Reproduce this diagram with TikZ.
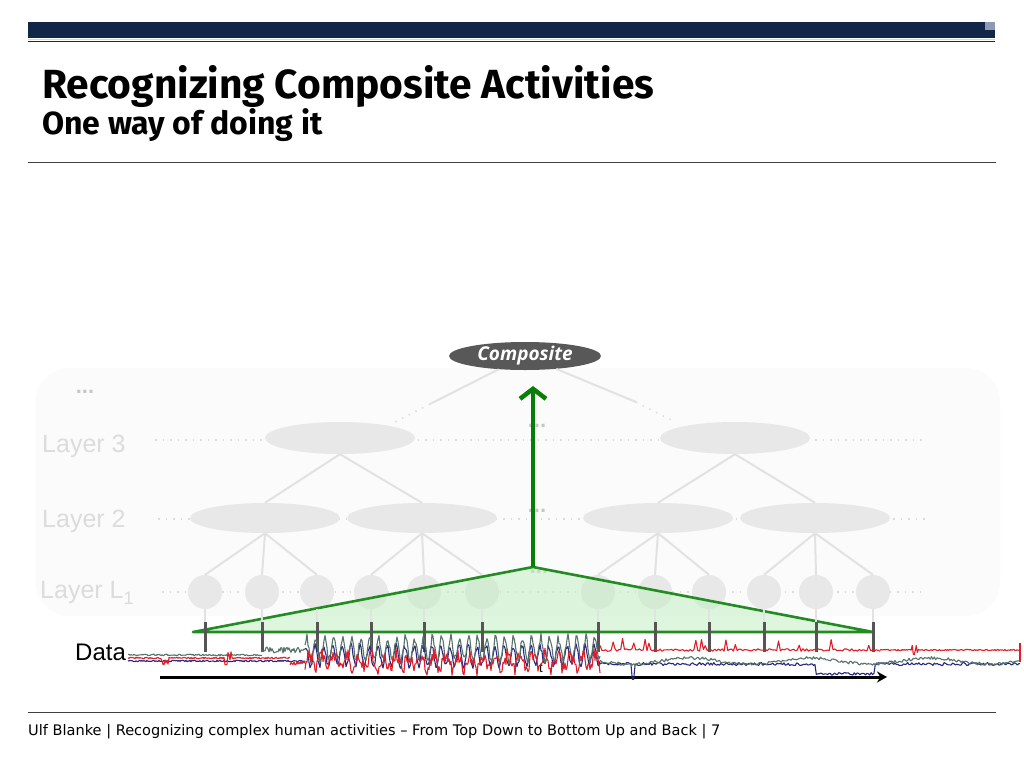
\documentclass[tikz,border=0pt]{standalone}
\usepackage{fontspec}
\setmainfont{Liberation Sans}
\newfontfamily\titlefont{Fira Sans}
\newfontfamily\footfont{DejaVu Sans}
\newfontfamily\compfont{Open Sans}
\usetikzlibrary{arrows.meta,shapes.geometric,calc}
\definecolor{navy}{RGB}{18,38,72}
\definecolor{sqcol}{RGB}{140,155,180}
\definecolor{nodegray}{RGB}{232,232,232}
\definecolor{labelgray}{RGB}{220,220,220}
\definecolor{edgegray}{RGB}{226,226,226}
\definecolor{compgray}{RGB}{88,88,88}
\definecolor{trigreen}{RGB}{34,140,34}
\definecolor{trifill}{RGB}{190,238,190}
\definecolor{arrowgreen}{RGB}{8,125,8}
\definecolor{sigred}{RGB}{222,30,40}
\definecolor{sigblue}{RGB}{40,40,130}
\definecolor{siggreen}{RGB}{85,115,105}
\definecolor{stickgray}{RGB}{85,85,85}
\tikzset{
  l3node/.style={ellipse, fill=nodegray, minimum width=150pt, minimum height=32pt, inner sep=0},
  l2node/.style={ellipse, fill=nodegray, minimum width=150pt, minimum height=30pt, inner sep=0},
  l1node/.style={circle, fill=nodegray, minimum size=34pt, inner sep=0},
  edge/.style={draw=edgegray, line width=2pt},
  dotline/.style={draw=labelgray, line width=1.5pt, dash pattern=on 1.5pt off 6pt},
  layerlbl/.style={anchor=base west, inner sep=0, text=labelgray, font=\fontsize{25}{25}\selectfont},
  dots/.style={inner sep=0, text=black!22, font=\bfseries\fontsize{22}{22}\selectfont},
  stick/.style={draw=stickgray, line width=3pt},
  faintstick/.style={draw=edgegray, line width=2pt},
  sig/.style={line width=1.1pt, line join=round},
}
\begin{document}
\begin{tikzpicture}[x=1pt,y=-1pt]
\useasboundingbox (0,0) rectangle (1024,768);
\fill[white] (0,0) rectangle (1024,768);
% header
\fill[navy] (28,22) rectangle (995,38);
\fill[sqcol] (985,22) rectangle (995,30);
\draw[gray!30, line width=0.8pt] (28,39.3) -- (995,39.3);
\draw[black!85, line width=1.4pt] (28,41.5) -- (995,41.5);
\node[anchor=base west, inner sep=0, font=\titlefont\bfseries\fontsize{40.7}{41}\selectfont] (title) at (42,98) {Recognizing Composite Activities};
\node[anchor=base west, inner sep=0, font=\titlefont\bfseries\fontsize{32}{32}\selectfont] (subtitle) at (42,134) {One way of doing it};
\draw[black!75, line width=0.9pt] (28,162) -- (996,162);
% footer
\draw[black!75, line width=0.9pt] (28,712) -- (996,712);
\node[anchor=base west, inner sep=0, font=\footfont\fontsize{14.55}{14.55}\selectfont] (footer) at (28,735) {Ulf Blanke | Recognizing complex human activities – From Top Down to Bottom Up and Back | 7};
% background panel
\fill[black!1.5, rounded corners=35pt] (35,368) rectangle (1000,616);
% layer labels
\node[dots, anchor=center] (dtl) at (85,392) {...};
\node[layerlbl] (lab3) at (42,452) {Layer 3};
\node[layerlbl] (lab2) at (42,527) {Layer 2};
\node[layerlbl] (lab1) at (40,598) {Layer L\raisebox{-6pt}{\fontsize{18}{18}\selectfont 1}};
% dotted guide lines
\draw[dotline] (155,440) -- (925,440);
\draw[dotline] (158,519) -- (925,519);
\draw[dotline] (162,592) -- (922,592);
% composite
\node[ellipse, fill=compgray, minimum width=152pt, minimum height=28pt, inner sep=0, text=white, font=\compfont\bfseries\itshape\fontsize{19}{19}\selectfont] (comp) at (525,356) {Composite};
\coordinate (cl1) at (430,404);
\coordinate (cl2) at (395,422);
\coordinate (cr1) at (636,402);
\coordinate (cr2) at (675,422);
\draw[edge] (comp) -- (cl1);
\draw[dotline] (cl1) -- (cl2);
\draw[edge] (comp) -- (cr1);
\draw[dotline] (cr1) -- (cr2);
% layer 3
\node[l3node] (l3a) at (340,438) {};
\node[l3node] (l3b) at (735,438) {};
% layer 2
\node[l2node] (l2a) at (265,518) {};
\node[l2node] (l2b) at (422,518) {};
\node[l2node] (l2c) at (658,518) {};
\node[l2node] (l2d) at (815,518) {};
\draw[edge] (l3a.south) -- (l2a.north);
\draw[edge] (l3a.south) -- (l2b.north);
\draw[edge] (l3b.south) -- (l2c.north);
\draw[edge] (l3b.south) -- (l2d.north);
% layer 1
\foreach \i/\xx in {1/205,2/262,3/317,4/371,5/424,6/482,7/598,8/655,9/709,10/764,11/816,12/873}{
  \node[l1node] (c\i) at (\xx,592) {};
  \coordinate (d\i) at (\xx,652);
}
\foreach \p/\a/\b/\c in {l2a/1/2/3,l2b/4/5/6,l2c/7/8/9,l2d/10/11/12}{
  \draw[edge] (\p.south) -- (c\a.north);
  \draw[edge] (\p.south) -- (c\b.north);
  \draw[edge] (\p.south) -- (c\c.north);
}
\node[dots] (dm3) at (537,426) {...};
\node[dots] (dm2) at (537,511) {...};
\node[dots] (dm1) at (539,572) {...};
% green triangle
\coordinate (tl) at (193,632);
\coordinate (tr) at (873,632);
\coordinate (apex) at (533,567);
\fill[trifill, fill opacity=0.5] (tl) -- (apex) -- (tr) -- cycle;
\draw[trigreen, line width=2.6pt, line join=round] (tl) -- (apex) -- (tr) -- cycle;
% sticks
\foreach \i in {1,...,12}{
  \draw[faintstick] (c\i.south) -- ($(c\i.south)!0.5!(d\i)$);
}
\foreach \i in {1,...,12}{
  \draw[stick] (d\i) -- ++(0,-30);
}
% green arrow
\coordinate (atop) at (533,386);
\draw[arrowgreen, line width=4.5pt, -{Straight Barb[length=10pt,width=26pt,line width=4.5pt]}] (apex) -- (atop);
% time axis
\coordinate (t0) at (160,677);
\coordinate (t1) at (887,677);
\draw[black, line width=3pt, -{Stealth[length=10pt,width=11pt]}] (t0) -- (t1);
\node[inner sep=0, font=\fontsize{13}{13}\selectfont] (tlab) at (541,668) {t};
% data label
\node[anchor=base west, inner sep=0, font=\fontsize{24}{24}\selectfont] (data) at (75,660) {Data};
% signals
\pgfmathsetseed{11}
% region A
\draw[sig, sigblue] plot[domain=128:305, samples=178] (\x, {661+0.8*rand});
\draw[sig, siggreen] plot[domain=128:262, samples=135] (\x, {655+0.8*rand});
\draw[sig, siggreen] plot[domain=262:305, samples=44] (\x, {650+3*rand});
\draw[sig, sigred] plot[domain=128:290, samples=163] (\x, {658+0.8*rand+((abs(\x-165)<4)+(abs(\x-228)<4))*9*rand});
\draw[sig, sigred] plot[domain=290:305, samples=16] (\x, {663+2*rand});
% region B
\draw[sig, sigblue] plot[domain=305:600, samples=296] (\x, {656+10*sin((\x-300)*40+30)+3*rand});
\draw[sig, siggreen] plot[domain=305:600, samples=296] (\x, {649+(11+4*rand)*sin((\x-300)*40)+2*rand});
\draw[sig, sigred] plot[domain=305:600, samples=296] (\x, {662+7*sin((\x-300)*29)+7*rand});
% region C
\draw[sig, sigblue] plot[domain=600:1020, samples=300] (\x, {664+1.5*rand+(\x>815)*(\x<875)*10+(abs(\x-633)<2)*16});
\draw[sig, siggreen] plot[domain=600:1020, samples=300] (\x, {661+3*sin((\x-600)*3)+1.5*rand});
\draw[sig, sigred] plot[domain=600:880, samples=150] (\x, {650+1.3*rand-(rand>0.75)*12*abs(rand)});
\draw[sig, sigred] plot[domain=880:1020, samples=140] (\x, {650+0.6*rand+(abs(\x-915)<3)*7*rand});
\draw[sig, sigred] (1020,643) -- (1020,662);
\end{tikzpicture}
\end{document}
